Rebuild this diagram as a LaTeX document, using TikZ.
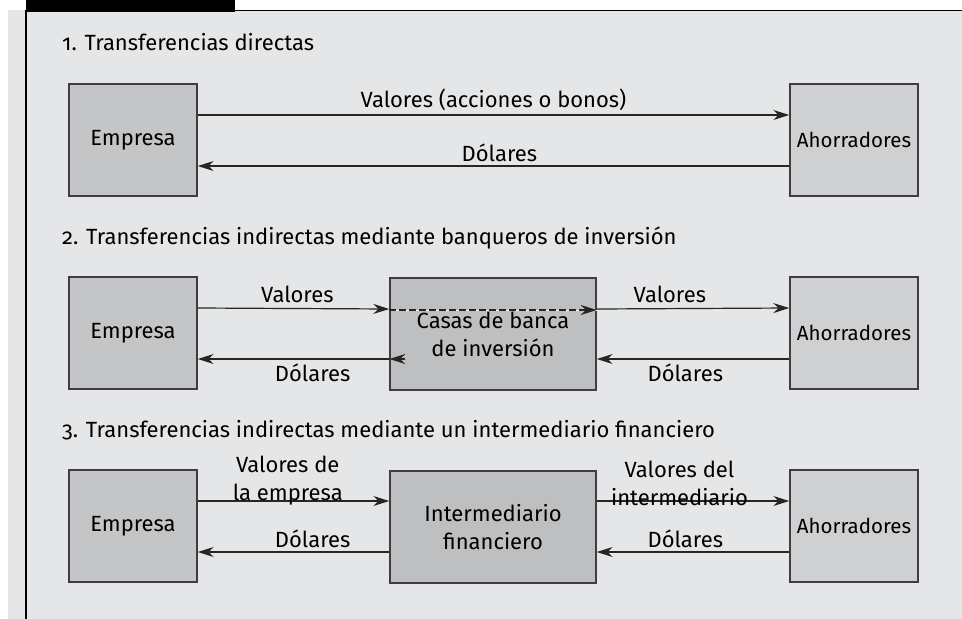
\documentclass[tikz,border=0pt]{standalone}
\usepackage{fontspec}
\setmainfont{Fira Sans}[Numbers=OldStyle]
\usetikzlibrary{arrows.meta}
\usetikzlibrary{positioning}
\definecolor{fondo}{RGB}{229,230,232}
\definecolor{cajaE}{RGB}{196,197,199}
\definecolor{cajaA}{RGB}{207,208,210}
\definecolor{cajaM}{RGB}{190,191,193}
\definecolor{borde}{RGB}{62,62,64}
\tikzset{caja/.style={ % cajas de los agentes
           draw=borde,
           line width=1.4pt,
           minimum width=128pt,
           minimum height=112pt,
           inner sep=0pt,
           align=center},
         cajamedia/.style={minimum width=206pt, fill=cajaM},
         ahorro/.style={fill=cajaA, font=\fontsize{20.5}{28}\selectfont},
         titulo/.style={anchor=base west, inner sep=0pt},
         flecha/.style={ % flujos de valores y dolares
           draw=black!85,
           line width=1.2pt,
           ->}}

\begin{document}
\begin{tikzpicture}[x=1pt,y=-1pt,
                    >={Stealth[length=16pt,width=10pt]},
                    every node/.append style={font=\fontsize{22}{28}\selectfont}]
\useasboundingbox (0,0) rectangle (962,619);
% marco
\fill[fondo] (8,10) rectangle (962,619);
\fill[black] (26,0) rectangle (235,12);
\draw[line width=1.2pt] (235,10.5) -- (962,10.5);
\draw[line width=1.3pt] (26,10) -- (26,619);

\node[titulo] (t1) at (62,50) {1. Transferencias directas};
\node[titulo] (t2) at (62,244) {2. Transferencias indirectas mediante banqueros de inversión};
\node[titulo] (t3) at (62,437) {3. Transferencias indirectas mediante un intermediario financiero};

\begin{scope}[every node/.append style={caja}]
    \node[fill=cajaE] (E1) at (133,140) {Empresa};
    \node[ahorro] (A1) at (854,140) {Ahorradores};
    \node[fill=cajaE] (E2) at (133,333) {Empresa};
    \node[cajamedia] (C2) at (493,334) {Casas de banca\\de inversión};
    \node[ahorro] (A2) at (854,333) {Ahorradores};
    \node[fill=cajaE] (E3) at (133,526) {Empresa};
    \node[cajamedia] (I3) at (493,527) {Intermediario\\financiero};
    \node[ahorro] (A3) at (854,526) {Ahorradores};
\end{scope}

\begin{scope}[every edge/.style={flecha},
              arriba/.style={anchor=base, inner sep=0pt, yshift=#1},
              doble/.style={anchor=south, inner sep=0pt, yshift=-5pt, align=center}]
    \path ([yshift=25pt]E1.east) edge node[pos=.5,arriba=8pt] {Valores (acciones o bonos)} ([yshift=25pt]A1.west);
    \path ([yshift=-26pt]A1.west) edge node[pos=.49,arriba=5pt] {Dólares} ([yshift=-26pt]E1.east);

    \path ([yshift=25pt]E2.east) edge node[pos=.52,arriba=6pt] {Valores} ([yshift=25pt]C2.west);
    \path ([yshift=24pt]C2.west) edge[preaction={draw=white!85!fondo,-}, dash pattern=on 7pt off 3pt] ([yshift=24pt]C2.east);
    \path ([yshift=25pt]C2.east) edge node[pos=.38,arriba=6pt] {Valores} ([yshift=25pt]A2.west);
    \path ([yshift=-26pt]A2.west) edge node[pos=.54,arriba=-22pt] {Dólares} ([yshift=-25pt]C2.east);
    \path ([xshift=16pt,yshift=-25pt]C2.west) edge ([yshift=-25pt]C2.west);
    \path ([yshift=-25pt]C2.west) edge node[pos=.4,arriba=-22pt] {Dólares} ([yshift=-26pt]E2.east);

    \path ([yshift=25pt]E3.east) edge node[pos=.47,doble] {Valores de\\la empresa} ([yshift=26pt]I3.west);
    \path ([yshift=26pt]I3.east) edge node[pos=.43,doble] {Valores del\\intermediario} ([yshift=25pt]A3.west);
    \path ([yshift=-26pt]A3.west) edge node[pos=.54,arriba=5pt] {Dólares} ([yshift=-25pt]I3.east);
    \path ([yshift=-25pt]I3.west) edge node[pos=.4,arriba=5pt] {Dólares} ([yshift=-26pt]E3.east);
\end{scope}
\end{tikzpicture}
\end{document}
